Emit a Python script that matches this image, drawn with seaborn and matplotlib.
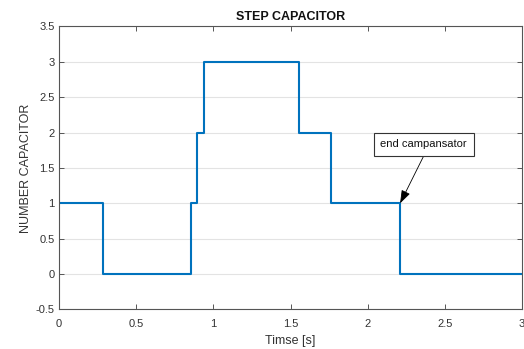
import matplotlib
matplotlib.use("Agg")
import matplotlib.pyplot as plt
import seaborn as sns

# Switching sequence of the capacitor bank
times = [0.0, 0.285, 0.855, 0.895, 0.94, 1.555, 1.76, 2.21, 3.0]
steps = [1, 0, 1, 2, 3, 2, 1, 0, 0]

x_ticks = [0, 0.5, 1, 1.5, 2, 2.5, 3]
x_tick_labels = ["0", "0.5", "1", "1.5", "2", "2.5", "3"]
y_ticks = [-0.5, 0, 0.5, 1, 1.5, 2, 2.5, 3, 3.5]
y_tick_labels = ["-0.5", "0", "0.5", "1", "1.5", "2", "2.5", "3", "3.5"]

end_time = 2.21
end_step = 1

sns.set_theme(style="white")
plt.rcParams["font.family"] = ["Liberation Sans", "DejaVu Sans"]

fig = plt.figure(figsize=(5.24, 3.49), dpi=100)
ax = fig.add_axes([0.1126, 0.1132, 0.8836, 0.8109])

sns.lineplot(x=times, y=steps, ax=ax, drawstyle="steps-post",
             color="#0072BD", linewidth=1.5, estimator=None)

ax.set_xlim(0, 3)
ax.set_ylim(-0.5, 3.5)
ax.set_xticks(x_ticks)
ax.set_xticklabels(x_tick_labels)
ax.set_yticks(y_ticks)
ax.set_yticklabels(y_tick_labels)

ax.yaxis.grid(True, color="#e3e3e3", linewidth=0.8)
ax.xaxis.grid(False)
ax.set_axisbelow(True)

for side in ax.spines.values():
    side.set_color("#555555")
    side.set_linewidth(0.8)

ax.tick_params(direction="in", length=3.5, width=0.7, color="#555555",
               labelsize=8, labelcolor="#333333",
               top=True, right=True, bottom=True, left=True,
               labeltop=False, labelright=False)
ax.tick_params(axis="x", pad=7)
ax.tick_params(axis="y", pad=3)

ax.set_title("STEP CAPACITOR", fontsize=9, fontweight="bold",
             color="#111111", pad=5)
ax.set_xlabel("Timse [s]", fontsize=9, color="#333333", labelpad=4)
ax.set_ylabel("NUMBER CAPACITOR", fontsize=9, color="#333333", labelpad=3)

ax.annotate("end campansator", xy=(end_time, end_step), xytext=(2.362, 1.835),
            ha="center", va="center", fontsize=8, color="#111111",
            bbox=dict(boxstyle="square,pad=0.6", fc="white", ec="#333333", lw=0.8),
            arrowprops=dict(arrowstyle="-|>,head_length=1.0,head_width=0.35",
                            color="black", lw=0.6, shrinkA=0, shrinkB=0,
                            relpos=(0.54, 0.0)))

fig.savefig("out.png", dpi=100, facecolor="white")
